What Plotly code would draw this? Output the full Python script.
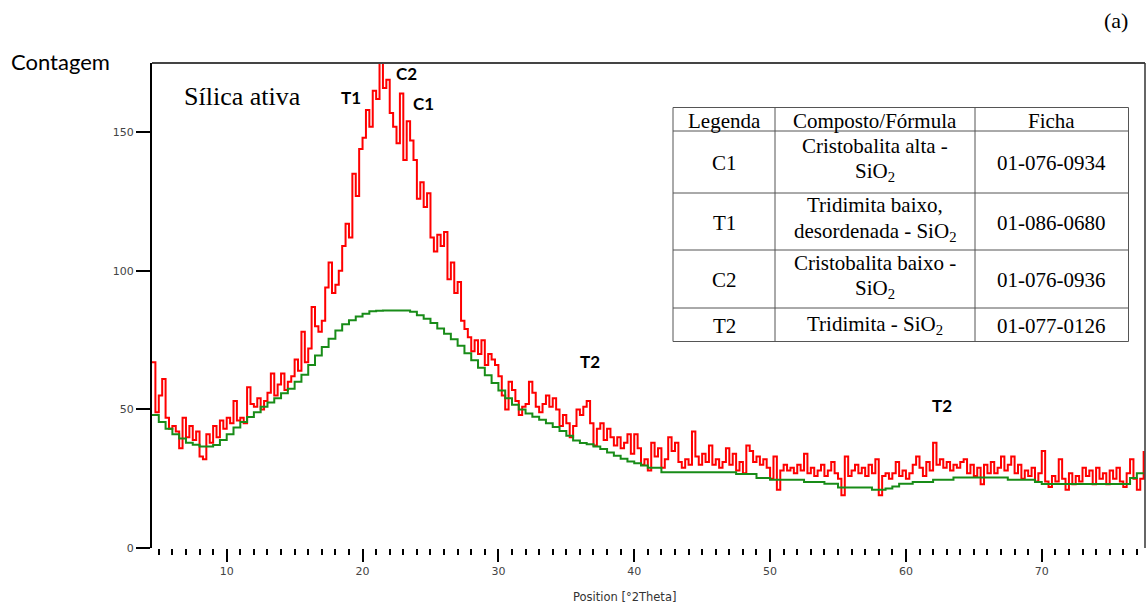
import plotly.graph_objects as go

# ---------------------------------------------------------------------------
# Diffractogram data: Sílica ativa
# ---------------------------------------------------------------------------
# Measured intensity (counts), regular 2θ scan
RED_START, RED_STEP = 4.5, 0.25
counts = [
    67, 49, 55, 61,      # 4.5
    47, 43, 44, 42,      # 5.5
    36, 47, 40, 44,      # 6.5
    39, 42, 33, 32,      # 7.5
    41, 38, 44, 40,      # 8.5
    46, 43, 47, 45,      # 9.5
    53, 46, 47, 45,      # 10.5
    58, 52, 51, 54,      # 11.5
    50, 53, 56, 63,      # 12.5
    55, 59, 63, 57,      # 13.5
    60, 62, 68, 64,      # 14.5
    78, 67, 72, 87,      # 15.5
    80, 78, 82, 94,      # 16.5
    103, 92, 95, 100,    # 17.5
    109, 117, 112, 135,  # 18.5
    127, 144, 148, 158,  # 19.5
    152, 165, 162, 175,  # 20.5
    166, 169, 157, 152,  # 21.5
    146, 164, 140, 154,  # 22.5
    147, 140, 126, 132,  # 23.5
    123, 128, 112, 107,  # 24.5
    113, 109, 114, 97,   # 25.5
    103, 92, 96, 82,     # 26.5
    79, 76, 71, 75,      # 27.5
    70, 75, 66, 70,      # 28.5
    68, 66, 62, 55,      # 29.5
    50, 60, 57, 53,      # 30.5
    48, 51, 52, 60,      # 31.5
    56, 51, 49, 52,      # 32.5
    55, 51, 54, 50,      # 33.5
    44, 48, 45, 40,      # 34.5
    44, 50, 48, 51,      # 35.5
    53, 45, 37, 43,      # 36.5
    45, 39, 43, 40,      # 37.5
    37, 40, 36, 38,      # 38.5
    41, 34, 41, 36,      # 39.5
    30, 32, 28, 38,      # 40.5
    33, 36, 29, 32,      # 41.5
    40, 35, 38, 31,      # 42.5
    29, 32, 30, 42,      # 43.5
    33, 30, 34, 31,      # 44.5
    37, 30, 32, 29,      # 45.5
    31, 36, 30, 34,      # 46.5
    28, 31, 27, 37,      # 47.5
    35, 31, 33, 30,      # 48.5
    32, 29, 25, 33,      # 49.5
    21, 28, 30, 28,      # 50.5
    29, 27, 30, 28,      # 51.5
    34, 27, 29, 26,      # 52.5
    28, 30, 26, 28,      # 53.5
    31, 27, 25, 19,      # 54.5
    33, 26, 28, 30,      # 55.5
    27, 29, 26, 30,      # 56.5
    27, 32, 19, 26,      # 57.5
    27, 25, 27, 31,      # 58.5
    26, 28, 25, 27,      # 59.5
    30, 33, 29, 26,      # 60.5
    31, 28, 38, 30,      # 61.5
    32, 29, 31, 28,      # 62.5
    30, 29, 31, 32,      # 63.5
    27, 30, 26, 29,      # 64.5
    23, 30, 27, 31,      # 65.5
    27, 29, 33, 28,      # 66.5
    30, 33, 27, 30,      # 67.5
    25, 28, 26, 29,      # 68.5
    24, 27, 35, 24,      # 69.5
    22, 26, 24, 32,      # 70.5
    25, 21, 27, 23,      # 71.5
    26, 24, 29, 26,      # 72.5
    28, 23, 29, 25,      # 73.5
    27, 23, 28, 25,      # 74.5
    29, 24, 22, 27,      # 75.5
    32, 25, 21, 25,      # 76.5
    35,                  # 77.5
]

# Fitted background (counts)
BG_START, BG_STEP = 4.5, 0.5
background = [
    48, 45.5, 43, 41,          # 4.5
    39.5, 38, 37.3, 36.6,      # 6.5
    36.6, 37.2, 39, 41,        # 8.5
    43.5, 45.5, 47.3, 49,      # 10.5
    51, 52.5, 54, 55.8,        # 12.5
    57.5, 60, 62.5, 66,        # 14.5
    69.5, 72.5, 75.5, 78.5,    # 16.5
    80.7, 82.2, 83.5, 84.5,    # 18.5
    85.4, 85.6, 85.7, 85.7,    # 20.5
    85.7, 85.7, 85.2, 84,      # 22.5
    82.7, 81.2, 79.2, 77.3,    # 24.5
    75.3, 73, 70.3, 67.7,      # 26.5
    65, 62.3, 59.5, 56.8,      # 28.5
    54, 51.7, 50, 48.5,        # 30.5
    47.4, 46.3, 45, 43.7,      # 32.5
    42.2, 40.5, 38.8, 37.9,    # 34.5
    37.4, 36.6, 35.7, 34.5,    # 36.5
    33.3, 32.2, 31.2, 30.6,    # 38.5
    29.8, 29, 29, 27.3,        # 40.5
    27.3, 27.3, 27.3, 27.3,    # 42.5
    27.3, 27.3, 27.3, 27.3,    # 44.5
    27.3, 27.3, 26.7, 26.7,    # 46.5
    26.7, 25.3, 25.3, 24.6,    # 48.5
    24.6, 24.6, 24.6, 24.6,    # 50.5
    23.8, 23.8, 23.8, 23.2,    # 52.5
    23.2, 21.8, 21.8, 21.8,    # 54.5
    21.8, 21.8, 21, 21,        # 56.5
    21.5, 22.2, 23.2, 23.2,    # 58.5
    23.8, 23.8, 23.8, 24.6,    # 60.5
    24.6, 24.6, 25.4, 25.4,    # 62.5
    25.4, 25.4, 25.4, 25.4,    # 64.5
    25.4, 25.4, 24.6, 24.6,    # 66.5
    24.6, 24.6, 23.8, 23.1,    # 68.5
    23.1, 23.1, 23.1, 23.1,    # 70.5
    23.1, 23.1, 23.1, 23.1,    # 72.5
    23.1, 23.1, 23.1, 23.1,    # 74.5
    25.3, 27, 27,              # 76.5
]

two_theta = [RED_START + RED_STEP * i for i in range(len(counts))]
bg_theta = [BG_START + BG_STEP * i for i in range(len(background))]

# Phase markers
peak_labels = ["T1", "C2", "C1", "T2", "T2"]
peak_x = [19.15, 23.27, 24.52, 36.74, 62.66]
peak_y = [162.5, 171.2, 160.4, 67.2, 51.4]

# Phase identification table
table_header = ["Legenda", "Composto/Fórmula", "Ficha"]
table_codes = ["C1", "T1", "C2", "T2"]
table_compounds = [
    ["Cristobalita alta -", "SiO<sub>2</sub>"],
    ["Tridimita baixo,", "desordenada - SiO<sub>2</sub>"],
    ["Cristobalita baixo -", "SiO<sub>2</sub>"],
    ["Tridimita - SiO<sub>2</sub>"],
]
table_cards = ["01-076-0934", "01-086-0680", "01-076-0936", "01-077-0126"]

x_ticks = [10, 20, 30, 40, 50, 60, 70]
y_ticks = [0, 50, 100, 150]

# ---------------------------------------------------------------------------
W, H = 1147, 609
ML, MR, MT, MB = 152, 2, 63, 61
PW, PH = W - ML - MR, H - MT - MB


def px(x):
    """Pixel column -> paper x."""
    return (x - ML) / PW


def py(y):
    """Pixel row -> paper y."""
    return (MT + PH - y) / PH


SERIF = "Liberation Serif, Times New Roman, serif"
SANS = "Lato, Open Sans, sans-serif"
TICKF = "DejaVu Sans, Verdana, sans-serif"

fig = go.Figure()
fig.add_trace(go.Scatter(
    x=two_theta, y=counts, mode="lines",
    line=dict(color="rgb(255,0,0)", width=2, shape="hv"),
    hoverinfo="skip", showlegend=False,
))
fig.add_trace(go.Scatter(
    x=bg_theta, y=background, mode="lines",
    line=dict(color="rgb(24,140,24)", width=2, shape="hv"),
    hoverinfo="skip", showlegend=False,
))

shapes = []
# frame: top and right edges
shapes.append(dict(type="line", xref="paper", yref="paper", x0=0, x1=1, y0=1, y1=1,
                   line=dict(color="#444", width=2)))
shapes.append(dict(type="line", xref="paper", yref="paper", x0=1, x1=1, y0=0, y1=1,
                   line=dict(color="#333", width=1.5)))

# table grid
col_edges = [673, 775, 975, 1128.5]
row_edges = [107.5, 131, 193, 250, 308, 341.5]
shapes.append(dict(type="rect", xref="paper", yref="paper",
                   x0=px(col_edges[0]), x1=px(col_edges[-1]),
                   y0=py(row_edges[-1]), y1=py(row_edges[0]),
                   fillcolor="white", line=dict(width=0), layer="above"))
for r in row_edges:
    shapes.append(dict(type="line", xref="paper", yref="paper",
                       x0=px(col_edges[0]), x1=px(col_edges[-1]), y0=py(r), y1=py(r),
                       line=dict(color="#555", width=1), layer="above"))
for c in col_edges:
    shapes.append(dict(type="line", xref="paper", yref="paper",
                       x0=px(c), x1=px(c), y0=py(row_edges[0]), y1=py(row_edges[-1]),
                       line=dict(color="#555", width=1), layer="above"))

annotations = []


def txt(x, y, s, size, family, color="black", xanchor="center", yanchor="middle", **kw):
    annotations.append(dict(x=x, y=y, text=s, showarrow=False,
                            font=dict(size=size, family=family, color=color),
                            xanchor=xanchor, yanchor=yanchor, **kw))


col_centers = [(col_edges[i] + col_edges[i + 1]) / 2 for i in range(3)]
row_centers = [(row_edges[i] + row_edges[i + 1]) / 2 for i in range(5)]

for j, h in enumerate(table_header):
    txt(px(col_centers[j]), py(row_centers[0] + 1.5), h, 21, SERIF, xref="paper", yref="paper")
for i in range(len(table_codes)):
    rc = row_centers[i + 1]
    txt(px(col_centers[0]), py(rc + 1), table_codes[i], 21, SERIF, xref="paper", yref="paper")
    txt(px(col_centers[2]), py(rc + 1), table_cards[i], 21, SERIF, xref="paper", yref="paper")
    lines = table_compounds[i]
    if len(lines) == 2:
        txt(px(col_centers[1]), py(rc - 16), lines[0], 21, SERIF, xref="paper", yref="paper")
        txt(px(col_centers[1]), py(rc + 10), lines[1], 21, SERIF, xref="paper", yref="paper")
    else:
        txt(px(col_centers[1]), py(rc), lines[0], 21, SERIF, xref="paper", yref="paper")

# peak markers
for lab, x, y in zip(peak_labels, peak_x, peak_y):
    txt(x, y, "<b>%s</b>" % lab, 17, SANS, xref="x", yref="y")

# titles / labels
txt(11.13, 162.8, "Sílica ativa", 26, SERIF, xref="x", yref="y")
txt(px(60), py(61), "Contagem", 22, SANS, xref="paper", yref="paper")
txt(px(1116), py(20), "(a)", 22, SERIF, xref="paper", yref="paper")
txt(px(624), py(597), "Position [°2Theta]", 11.5, TICKF, color="#333", xref="paper", yref="paper")

fig.update_layout(
    width=W, height=H,
    margin=dict(l=ML, r=MR, t=MT, b=MB, autoexpand=False),
    paper_bgcolor="white", plot_bgcolor="white",
    shapes=shapes, annotations=annotations,
    xaxis=dict(
        range=[4.5, 77.6], showgrid=False, zeroline=False, showline=False,
        tickvals=x_ticks, ticks="outside", ticklen=13, tickwidth=2, tickcolor="black",
        tickfont=dict(family=TICKF, size=11, color="#444"),
        minor=dict(dtick=1, tick0=0, ticks="outside", ticklen=6, tickwidth=2,
                   tickcolor="black", showgrid=False),
    ),
    yaxis=dict(
        range=[0, 175], showgrid=False, zeroline=False,
        showline=True, linecolor="black", linewidth=2,
        tickvals=y_ticks, ticks="outside", ticklen=14, tickwidth=2, tickcolor="black",
        tickfont=dict(family=TICKF, size=11, color="#444"),
    ),
)

fig.write_html("out.html")
